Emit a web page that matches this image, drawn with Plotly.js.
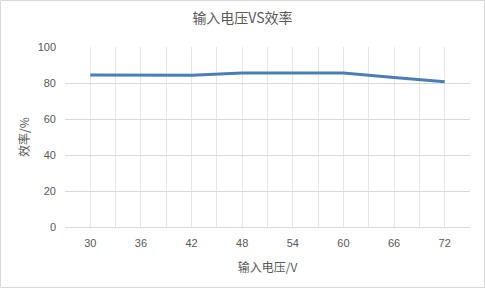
<!DOCTYPE html>
<html><head><meta charset="utf-8">
<script src="https://cdn.plot.ly/plotly-3.0.1.min.js"></script>
<style>html,body{margin:0;padding:0;background:#fff}#chart{width:485px;height:288px}</style>
</head><body><div id="chart"></div>
<script>
const voltages = [30, 36, 42, 48, 54, 60, 66, 72];
const efficiency = [84.4, 84.3, 84.3, 85.5, 85.5, 85.6, 83.1, 80.7];
const yTicks = [0, 20, 40, 60, 80, 100];
const chartTitle = '输入电压VS效率';
const xTitle = '输入电压/V';
const yTitle = '效率/%';

const L = 65, R = 15, T = 47, B = 61, W = 485, H = 288;
const pw = W - L - R, ph = H - T - B;
const FONT = 'Liberation Sans, Noto Sans CJK SC, sans-serif';
const CJK = 'Noto Sans CJK SC, sans-serif';

Plotly.newPlot('chart', [{
  x: voltages, y: efficiency, type: 'scatter', mode: 'lines',
  line: {color: '#4A7EBB', width: 3}, hoverinfo: 'none'
}], {
  width: W, height: H,
  margin: {l: L, r: R, t: T, b: B, pad: 0},
  paper_bgcolor: '#fff', plot_bgcolor: '#fff',
  showlegend: false,
  title: {text: chartTitle, font: {family: CJK, size: 14, color: '#595959'}, x: 0.5, xanchor: 'center', y: 1 - 18 / H, yanchor: 'middle'},
  xaxis: {
    type: 'linear', range: [27, 75], tickmode: 'array', tickvals: voltages, ticktext: voltages.map(String),
    showgrid: true, gridcolor: '#e6e6e6', gridwidth: 1,
    minor: {tickmode: 'linear', tick0: 27, dtick: 3, showgrid: true, gridcolor: '#e6e6e6', gridwidth: 1},
    zeroline: false, showline: false, ticks: '', ticklabelstandoff: 8,
    tickfont: {family: FONT, size: 11, color: '#595959'},
    title: {text: xTitle, font: {family: CJK, size: 12, color: '#595959'}, standoff: 15},
    fixedrange: true
  },
  yaxis: {
    range: [0, 100], tickmode: 'array', tickvals: yTicks,
    showgrid: true, gridcolor: '#d9d9d9', gridwidth: 1,
    zeroline: true, zerolinecolor: '#d9d9d9', zerolinewidth: 1,
    showline: false, ticks: '', ticklabelstandoff: 8,
    tickfont: {family: FONT, size: 11, color: '#595959'},
    title: {text: yTitle, font: {family: CJK, size: 12, color: '#595959'}, standoff: 5},
    fixedrange: true
  },
  shapes: [{
    type: 'rect', xref: 'paper', yref: 'paper', layer: 'below',
    x0: (0.5 - L) / pw, x1: (W - 0.5 - L) / pw,
    y0: (H - B - (H - 0.5)) / ph, y1: (H - B - 0.5) / ph,
    line: {color: '#d9d9d9', width: 1}, fillcolor: 'rgba(0,0,0,0)'
  }]
}, {staticPlot: true, displayModeBar: false});
</script></body></html>
